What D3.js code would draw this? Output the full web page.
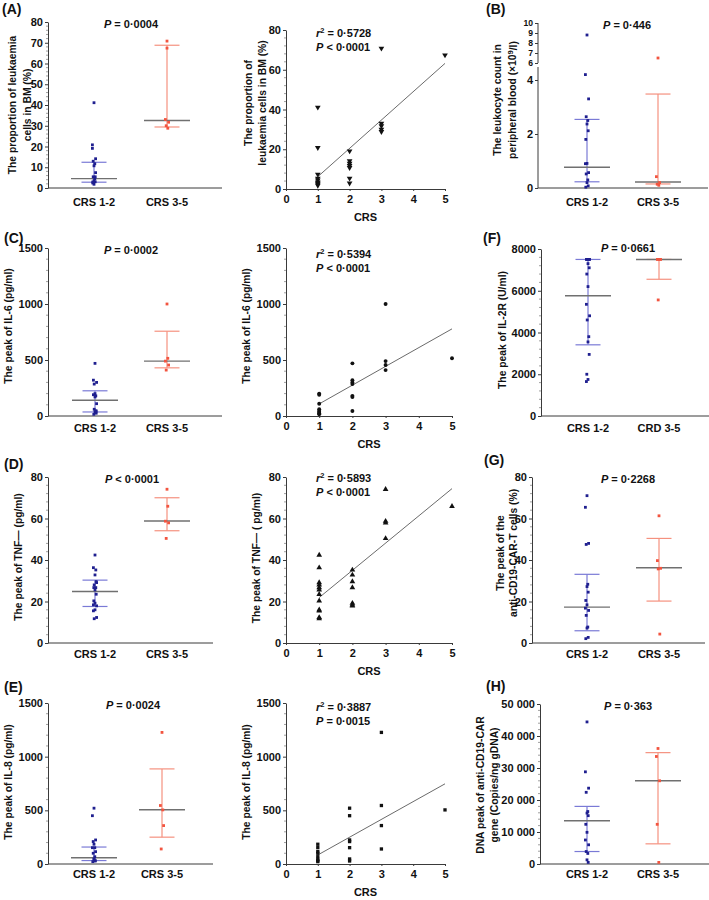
<!DOCTYPE html>
<html><head><meta charset="utf-8">
<script src="https://cdn.jsdelivr.net/npm/d3@7"></script>
<style>body{margin:0;background:#fff}svg text{font-family:"Liberation Sans",Arial,sans-serif;font-weight:bold;fill:#111}</style>
</head><body><svg id="c" width="709" height="900"></svg>
<script>
// ---------------- DATA ----------------
const groups = ["CRS 1-2", "CRS 3-5"];
const groupsF = ["CRS 1-2", "CRD 3-5"];
const crsTicks = [0, 1, 2, 3, 4, 5];

// (A) leukaemia cells in BM (%)
const aScatCrs = [1,1,1,1,1,1,1,1,1, 2,2,2,2,2,2,2, 3,3,3,3,3, 5];
const aScatVal = [41.1,20.8,7.4,5.4,4.5,3.5,3.0,2.4,1.8, 19.1,14.1,12.9,11.7,10.7,5.4,2.9, 70.8,33.0,31.7,30.0,28.8, 67.4];
const aMed = [4.5, 32.5], aQ1 = [2.8, 29.4], aQ3 = [12.4, 68.8];
const aFitCrs = [1, 5], aFitVal = [6.2, 63.2];
const aDotTicks = [0,10,20,30,40,50,60,70,80];
const aScatTicks = [0,20,40,60,80];

// (B) leukocyte count in peripheral blood
const bLow = [8.8,4.2,3.3,2.64,2.5,2.37,2.12,1.8,0.91,0.9,0.57,0.52,0.3,0.2,0.08,0.03];
const bHigh = [6.5,0.42,0.2,0.14,0.1];
const bMed = [0.77, 0.22], bQ1 = [0.23, 0.15], bQ3 = [2.54, 3.48];
const bTicksLow = [0,2,4], bTicksHigh = [6,7,8,9,10];

// (C) IL-6
const cScatCrs = [1,1,1,1,1,1,1,1, 2,2,2,2,2,2,2, 3,3,3,3, 5];
const cScatVal = [200,190,110,60,45,35,25,15, 470,320,300,285,180,170,45, 1000,490,455,410, 515];
const cMed = [140, 490], cQ1 = [36, 430], cQ3 = [225, 757];
const cFitCrs = [1, 5], cFitVal = [108, 778];
const cTicks = [0,500,1000,1500];

// (F) IL-2R
const fLow = [7500,7500,7500,7500,7500,7300,7100,6800,6200,5350,4800,4600,3800,3550,2950,2000,1750,1650];
const fHigh = [7500,7500,7500,5560];
const fMed = [5760, 7500], fQ1 = [3410, 6550], fQ3 = [7500, 7500];
const fTicks = [0,2000,4000,6000,8000];

// (D) TNF
const dScatCrs = [1,1,1,1,1,1,1,1,1,1,1,1, 2,2,2,2,2,2,2, 3,3,3,3, 5];
const dScatVal = [42.4,36.3,29.1,28.0,26.7,25.6,23.5,20.3,16.0,15.5,12.3,11.7, 35.2,32.8,29.6,26.7,19.2,18.4,17.9, 74.1,58.7,57.9,50.4, 65.9];
const dMed = [24.8, 58.8], dQ1 = [17.6, 54.1], dQ3 = [30.3, 70.0];
const dFitCrs = [1, 5], dFitVal = [21.9, 74.4];
const dTicks = [0,20,40,60,80];

// (G) anti-CD19-CAR-T cells (%)
const gLow = [71,65.4,48,47.5,28.3,27.2,24.5,20.5,18.4,16.8,15.7,13.3,7.7,7.2,2.7,2.1];
const gHigh = [61.3,39.7,36,35.7,4.3];
const gMed = [17.3, 36.3], gQ1 = [5.9, 20.2], gQ3 = [33.1, 50.4];
const gTicks = [0,20,40,60,80];

// (E) IL-8
const eScatCrs = [1,1,1,1,1,1,1,1, 2,2,2,2,2,2,2, 3,3,3,3, 5];
const eScatVal = [184,152,115,100,68,44,31,22, 520,450,224,209,152,47,28, 1226,545,358,140, 504];
const eMed = [58, 506], eQ1 = [32, 250], eQ3 = [158, 886];
const eFitCrs = [1, 5], eFitVal = [84, 747];
const eTicks = [0,500,1000,1500];

// (H) DNA peak of anti-CD19-CAR gene
const hLow = [44400,28800,23700,22400,16400,15900,15100,12400,9900,7500,6000,3900,3300,1300,500];
const hHigh = [36100,33600,26000,12400,500];
const hMed = [13500, 26000], hQ1 = [3900, 6300], hQ3 = [18000, 34800];
const hTicks = [0,10000,20000,30000,40000,50000];

// ---------------- DRAWING ----------------
const svg = d3.select("#c");
const BLUE_PT = "#1f1f8f", BLUE_BAR = "#7a7ad6", RED_PT = "#f2543f", RED_BAR = "#f5917f", MED = "#707070", AX = "#3a3a3a";
const jit = [0, -1.6, 1.6, -0.8, 0.8, 0, 1.2, -1.2];

function txt(x, y, s, size, anchor) {
  return svg.append("text").attr("x", x).attr("y", y).attr("font-size", size)
    .attr("text-anchor", anchor || "middle").text(s);
}
function vtitle(xs, cy, lines) {
  lines.forEach((l, i) => {
    const t = svg.append("text").attr("transform", `translate(${xs[i]},${cy}) rotate(-90)`)
      .attr("text-anchor", "middle").attr("dy", "0.35em").attr("font-size", 10.3);
    if (Array.isArray(l)) {
      l.forEach(p => { const ts = t.append("tspan").text(p.t); if (p.dy) ts.attr("dy", p.dy); if (p.fs) ts.attr("font-size", p.fs); });
    } else t.text(l);
  });
}
function pText(x, y, rest, anchor) {
  const t = svg.append("text").attr("x", x).attr("y", y).attr("font-size", 11).attr("text-anchor", anchor || "middle");
  t.append("tspan").attr("font-style", "italic").text("P");
  t.append("tspan").text(rest);
}
function r2Text(x, y, val) {
  const t = svg.append("text").attr("x", x).attr("y", y).attr("font-size", 11);
  t.append("tspan").attr("font-style", "italic").text("r");
  t.append("tspan").attr("dy", -4).attr("font-size", 7.5).text("2");
  t.append("tspan").attr("dy", 4).text(" = " + val);
}
function yAxis(x, y, ticks, fmt, minorStep) {
  const g = svg.append("g").attr("transform", `translate(${x},0)`)
    .call(d3.axisLeft(y).tickValues(ticks).tickFormat(fmt || d3.format("d")).tickSize(3).tickSizeOuter(0).tickPadding(2));
  g.attr("font-family", null).attr("font-size", null);
  g.selectAll("text").attr("font-size", 11).attr("fill", "#111");
  g.select(".domain").attr("stroke", AX);
  g.selectAll(".tick line").attr("stroke", AX);
  if (minorStep) {
    const d = y.domain();
    const mins = d3.range(d[0], d[1] + 1e-9, minorStep).filter(v => !ticks.some(t => Math.abs(t - v) < 1e-9));
    g.selectAll(".minor").data(mins).join("line").attr("x1", -2).attr("x2", 0)
      .attr("y1", v => y(v)).attr("y2", v => y(v)).attr("stroke", "#777").attr("stroke-width", 0.7);
  }
  return g;
}
function hline(x1, x2, y, col, w) {
  svg.append("line").attr("x1", x1).attr("x2", x2).attr("y1", y).attr("y2", y).attr("stroke", col).attr("stroke-width", w || 1.2);
}
function groupMarks(yf, cx, vals, med, q1, q3, ptCol, barCol) {
  svg.append("line").attr("x1", cx).attr("x2", cx).attr("y1", yf(q1)).attr("y2", yf(q3)).attr("stroke", barCol).attr("stroke-width", 1.2);
  hline(cx - 12.5, cx + 12.5, yf(q1), barCol);
  hline(cx - 12.5, cx + 12.5, yf(q3), barCol);
  hline(cx - 23, cx + 23, yf(med), MED, 1.4);
  svg.append("g").selectAll("rect").data(vals).join("rect")
    .attr("x", (v, i) => cx + jit[i % jit.length] - 1.4).attr("y", v => yf(v) - 1.4)
    .attr("width", 2.8).attr("height", 2.8).attr("fill", ptCol);
}
function dotPanel(o) {
  const y = d3.scaleLinear().domain(o.domain).range([o.yb, o.yt]);
  const x = d3.scalePoint().domain(o.cats).range(o.catX);
  yAxis(o.ax, y, o.ticks, o.fmt, o.minor);
  svg.append("line").attr("x1", o.ax).attr("x2", o.xEnd).attr("y1", o.yb).attr("y2", o.yb).attr("stroke", AX);
  groupMarks(y, x(o.cats[0]), o.low, o.med[0], o.q1[0], o.q3[0], BLUE_PT, BLUE_BAR);
  groupMarks(y, x(o.cats[1]), o.high, o.med[1], o.q1[1], o.q3[1], RED_PT, RED_BAR);
  o.cats.forEach(c => txt(x(c), o.catY, c, 11));
  vtitle(o.titleX, o.titleCy, o.title);
  txt(o.lab[0], o.lab[1], o.label, 14, "start");
  pText(o.p[0], o.p[1], o.pText);
}
function scatPanel(o) {
  const y = d3.scaleLinear().domain(o.domain).range([o.yb, o.yt]);
  const x = d3.scaleLinear().domain([0, 5]).range([o.ax, o.xEnd]);
  yAxis(o.ax, y, o.ticks, null, o.minor);
  const gx = svg.append("g").attr("transform", `translate(0,${o.yb})`)
    .call(d3.axisBottom(x).tickValues(crsTicks).tickFormat(d3.format("d")).tickSize(2).tickSizeOuter(0).tickPadding(4));
  gx.attr("font-family", null).attr("font-size", null);
  gx.selectAll("text").attr("font-size", 11).attr("fill", "#111");
  gx.select(".domain").attr("stroke", AX);
  gx.selectAll(".tick line").attr("stroke", AX);
  txt((o.ax + o.xEnd) / 2, o.yb + 32, "CRS", 11);
  svg.append("line").attr("x1", x(o.fitX[0])).attr("x2", x(o.fitX[1]))
    .attr("y1", y(o.fitY[0])).attr("y2", y(o.fitY[1])).attr("stroke", "#444").attr("stroke-width", 0.8);
  const sym = d3.symbol().type(o.sym).size(o.symSize || 16);
  svg.append("g").selectAll("path").data(o.val).join("path")
    .attr("transform", (v, i) => `translate(${x(o.crs[i])},${y(v)})${o.rot ? " rotate(180)" : ""}`)
    .attr("d", sym).attr("fill", "#111");
  vtitle(o.titleX, o.titleCy, o.title);
  r2Text(o.ax + 30, o.r2y, o.r2);
  pText(o.ax + 30, o.r2y + 14, o.pText, "start");
}
const low = (crs, val) => val.filter((v, i) => crs[i] <= 2);
const high = (crs, val) => val.filter((v, i) => crs[i] >= 3);

// Row 1
dotPanel({ax: 48, xEnd: 222, yb: 188, yt: 22, domain: [0, 80], ticks: aDotTicks, minor: 2, cats: groups, catX: [94, 167], catY: 206,
  low: low(aScatCrs, aScatVal), high: high(aScatCrs, aScatVal), med: aMed, q1: aQ1, q3: aQ3,
  title: ["The proportion of leukaemia", "cells in BM (%)"], titleX: [12, 27], titleCy: 105,
  label: "(A)", lab: [2, 14], p: [131, 28], pText: " = 0·0004"});
scatPanel({ax: 286, xEnd: 445, yb: 189, yt: 30, domain: [0, 80], ticks: aScatTicks, minor: 4, crs: aScatCrs, val: aScatVal,
  fitX: aFitCrs, fitY: aFitVal, sym: d3.symbolTriangle, rot: true, symSize: 14,
  title: ["The proportion of", "leukaemia cells in BM (%)"], titleX: [248, 262], titleCy: 103,
  r2: "0·5728", r2y: 37, pText: " < 0·0001"});

// (B) broken axis
(function () {
  const yl = d3.scaleLinear().domain([0, 4]).range([188, 80]);
  const yh = d3.scaleLinear().domain([6, 10]).range([63, 23]);
  const yf = v => v <= 5 ? yl(v) : yh(v);
  const ax = 538;
  [[yl, bTicksLow, 188, 67, 11], [yh, bTicksHigh, 63, 23, 8.6]].forEach(([s, t, y0, y1, fs]) => {
    const g = svg.append("g").attr("transform", `translate(${ax},0)`)
      .call(d3.axisLeft(s).tickValues(t).tickFormat(d3.format("d")).tickSize(3).tickSizeOuter(0).tickPadding(2));
    g.attr("font-family", null).attr("font-size", null);
    g.select(".domain").remove();
    g.selectAll("text").attr("font-size", fs).attr("fill", "#111");
    g.selectAll(".tick line").attr("stroke", AX);
    svg.append("line").attr("x1", ax).attr("x2", ax).attr("y1", y0).attr("y2", y1).attr("stroke", AX);
  });
  svg.append("line").attr("x1", ax).attr("x2", 708).attr("y1", 188).attr("y2", 188).attr("stroke", AX);
  const x = d3.scalePoint().domain(groups).range([587, 658]);
  groupMarks(yf, x(groups[0]), bLow, bMed[0], bQ1[0], bQ3[0], BLUE_PT, BLUE_BAR);
  groupMarks(yf, x(groups[1]), bHigh, bMed[1], bQ1[1], bQ3[1], RED_PT, RED_BAR);
  groups.forEach(c => txt(x(c), 206, c, 11));
  vtitle([497, 512], 100, ["The leukocyte count in",
    [{t: "peripheral blood (×10"}, {t: "9", dy: "-0.4em", fs: 7.5}, {t: "/l)", dy: "0.4em"}]]);
  txt(486, 14, "(B)", 14, "start");
  pText(627, 29, " = 0·446");
})();

// Row 2
dotPanel({ax: 48, xEnd: 222, yb: 416, yt: 248, domain: [0, 1500], ticks: cTicks, minor: 100, cats: groups, catX: [95, 167], catY: 432,
  low: low(cScatCrs, cScatVal), high: high(cScatCrs, cScatVal), med: cMed, q1: cQ1, q3: cQ3,
  title: ["The peak of IL-6 (pg/ml)"], titleX: [8], titleCy: 326,
  label: "(C)", lab: [4, 243], p: [131, 254], pText: " = 0·0002"});
scatPanel({ax: 286, xEnd: 452, yb: 416, yt: 248, domain: [0, 1500], ticks: cTicks, minor: 100, crs: cScatCrs, val: cScatVal,
  fitX: cFitCrs, fitY: cFitVal, sym: d3.symbolCircle, symSize: 12,
  title: ["The peak of IL-6 (pg/ml)"], titleX: [246], titleCy: 326,
  r2: "0·5394", r2y: 258, pText: " < 0·0001"});
dotPanel({ax: 541, xEnd: 709, yb: 416, yt: 249, domain: [0, 8000], ticks: fTicks, minor: 400, cats: groupsF, catX: [588, 659], catY: 432,
  low: fLow, high: fHigh, med: fMed, q1: fQ1, q3: fQ3,
  title: ["The peak of IL-2R (U/ml)"], titleX: [502], titleCy: 330,
  label: "(F)", lab: [483, 243], p: [628, 252], pText: " = 0·0661"});

// Row 3
dotPanel({ax: 48, xEnd: 213, yb: 643, yt: 477, domain: [0, 80], ticks: dTicks, minor: 4, cats: groups, catX: [95, 167], catY: 658,
  low: low(dScatCrs, dScatVal), high: high(dScatCrs, dScatVal), med: dMed, q1: dQ1, q3: dQ3,
  title: ["The peak of TNF— (pg/ml)"], titleX: [18], titleCy: 557,
  label: "(D)", lab: [4, 469], p: [132, 483], pText: " < 0·0001"});
scatPanel({ax: 286, xEnd: 452, yb: 643, yt: 477, domain: [0, 80], ticks: dTicks, minor: 4, crs: dScatCrs, val: dScatVal,
  fitX: dFitCrs, fitY: dFitVal, sym: d3.symbolTriangle, symSize: 14,
  title: ["The peak of TNF— ( pg/ml)"], titleX: [256], titleCy: 558,
  r2: "0·5893", r2y: 482, pText: " < 0·0001"});
dotPanel({ax: 532, xEnd: 705, yb: 643, yt: 477, domain: [0, 80], ticks: gTicks, minor: 4, cats: groups, catX: [587, 659], catY: 658,
  low: gLow, high: gHigh, med: gMed, q1: gQ1, q3: gQ3,
  title: ["The peak of the", "anti-CD19-CAR-T cells (%)"], titleX: [500, 513], titleCy: 553,
  label: "(G)", lab: [484, 465], p: [628, 483], pText: " = 0·2268"});

// Row 4
dotPanel({ax: 48, xEnd: 213, yb: 864, yt: 703, domain: [0, 1500], ticks: eTicks, minor: 100, cats: groups, catX: [94, 162], catY: 878,
  low: low(eScatCrs, eScatVal), high: high(eScatCrs, eScatVal), med: eMed, q1: eQ1, q3: eQ3,
  title: ["The peak of IL-8 (pg/ml)"], titleX: [8], titleCy: 782,
  label: "(E)", lab: [4, 692], p: [133, 709], pText: " = 0·0024"});
scatPanel({ax: 286, xEnd: 445, yb: 864, yt: 703, domain: [0, 1500], ticks: eTicks, minor: 100, crs: eScatCrs, val: eScatVal,
  fitX: eFitCrs, fitY: eFitVal, sym: d3.symbolSquare, symSize: 11,
  title: ["The peak of IL-8 (pg/ml)"], titleX: [246], titleCy: 782,
  r2: "0·3887", r2y: 711, pText: " = 0·0015"});
dotPanel({ax: 540, xEnd: 709, yb: 864, yt: 704, domain: [0, 50000], ticks: hTicks, minor: 2000,
  fmt: d => d === 0 ? "0" : d3.format(",")(d).replace(",", " "), cats: groups, catX: [587, 658], catY: 878,
  low: hLow, high: hHigh, med: hMed, q1: hQ1, q3: hQ3,
  title: ["DNA peak of anti-CD19-CAR", "gene (Copies/ng gDNA)"], titleX: [480, 494], titleCy: 785,
  label: "(H)", lab: [486, 691], p: [628, 710], pText: " = 0·363"});
</script></body></html>
